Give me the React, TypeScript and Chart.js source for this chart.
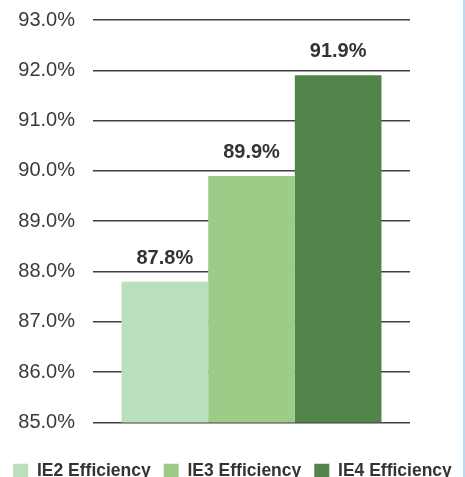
import React, { useEffect, useRef } from "react";
import { Chart, registerables } from "chart.js";

Chart.register(...registerables);

const categories = [""];
const seriesNames = ["IE2 Efficiency", "IE3 Efficiency", "IE4 Efficiency"];
const seriesValues = [87.8, 89.9, 91.9];
const seriesColors = ["#bbdebd", "#9ccd88", "#52834a"];
const yTicks = [85, 86, 87, 88, 89, 90, 91, 92, 93];

const valueLabels = {
  id: "valueLabels",
  afterDatasetsDraw(chart: any) {
    const ctx = chart.ctx;
    ctx.save();
    ctx.font = "bold 20px 'Liberation Sans', Arial, sans-serif";
    ctx.fillStyle = "#333333";
    ctx.textAlign = "center";
    ctx.textBaseline = "alphabetic";
    chart.data.datasets.forEach((ds: any, i: number) => {
      const meta = chart.getDatasetMeta(i);
      meta.data.forEach((bar: any, j: number) => {
        const v = ds.data[j];
        ctx.fillText(v.toFixed(1) + "%", bar.x, bar.y - 18);
      });
    });
    ctx.restore();
  },
};

export default function App() {
  const ref = useRef<HTMLCanvasElement>(null);
  useEffect(() => {
    if (!ref.current) return;
    const chart = new Chart(ref.current, {
      type: "bar",
      data: {
        labels: categories,
        datasets: seriesNames.map((name, i) => ({
          label: name,
          data: [seriesValues[i]],
          backgroundColor: seriesColors[i],
          borderWidth: 0,
          categoryPercentage: 0.82,
          barPercentage: 1,
        })),
      },
      options: {
        animation: false,
        responsive: false,
        maintainAspectRatio: false,
        layout: { padding: { top: 20, right: 0, left: 0, bottom: 0 } },
        plugins: {
          tooltip: { enabled: false },
          title: { display: false },
          legend: {
            position: "bottom",
            labels: {
              boxWidth: 15,
              boxHeight: 15,
              padding: 13,
              color: "#333333",
              font: {
                family: "'Liberation Sans', Arial, sans-serif",
                size: 17.5,
                weight: "bold",
              },
            },
          },
        },
        scales: {
          x: {
            display: true,
            grid: { display: false },
            border: { display: false },
            ticks: { display: false },
            afterFit: (s: any) => {
              s.height = 27;
            },
          },
          y: {
            min: 85,
            max: 93,
            afterFit: (s: any) => {
              s.width = 93;
              s.paddingTop = 0;
              s.paddingBottom = 0;
            },
            afterBuildTicks: (s: any) => {
              s.ticks = yTicks.map((v) => ({ value: v }));
            },
            border: { display: false },
            grid: { color: "#404040", lineWidth: 1.6, drawTicks: false },
            ticks: {
              padding: 18,
              color: "#3a3a3a",
              font: { family: "'Liberation Sans', Arial, sans-serif", size: 20 },
              callback: (v: any) => Number(v).toFixed(1) + "%",
            },
          },
          yRight: {
            type: "linear",
            position: "right",
            display: true,
            min: 85,
            max: 93,
            grid: { display: false, drawOnChartArea: false },
            border: { display: false },
            ticks: { display: false },
            afterFit: (s: any) => {
              s.width = 55;
              s.paddingTop = 0;
              s.paddingBottom = 0;
            },
          },
        },
      },
      plugins: [valueLabels],
    });
    return () => chart.destroy();
  }, []);
  return (
    <div
      style={{
        position: "fixed",
        left: 0,
        top: 0,
        width: 465,
        height: 477,
        overflow: "hidden",
        background: "#ffffff",
      }}
    >
      <canvas
        ref={ref}
        width={465}
        height={490}
        style={{ position: "absolute", left: 0, top: 0, width: 465, height: 490 }}
      />
      <div
        style={{
          position: "absolute",
          left: 463,
          top: 0,
          width: 2,
          height: 477,
          background: "#b9d8f2",
        }}
      />
    </div>
  );
}
